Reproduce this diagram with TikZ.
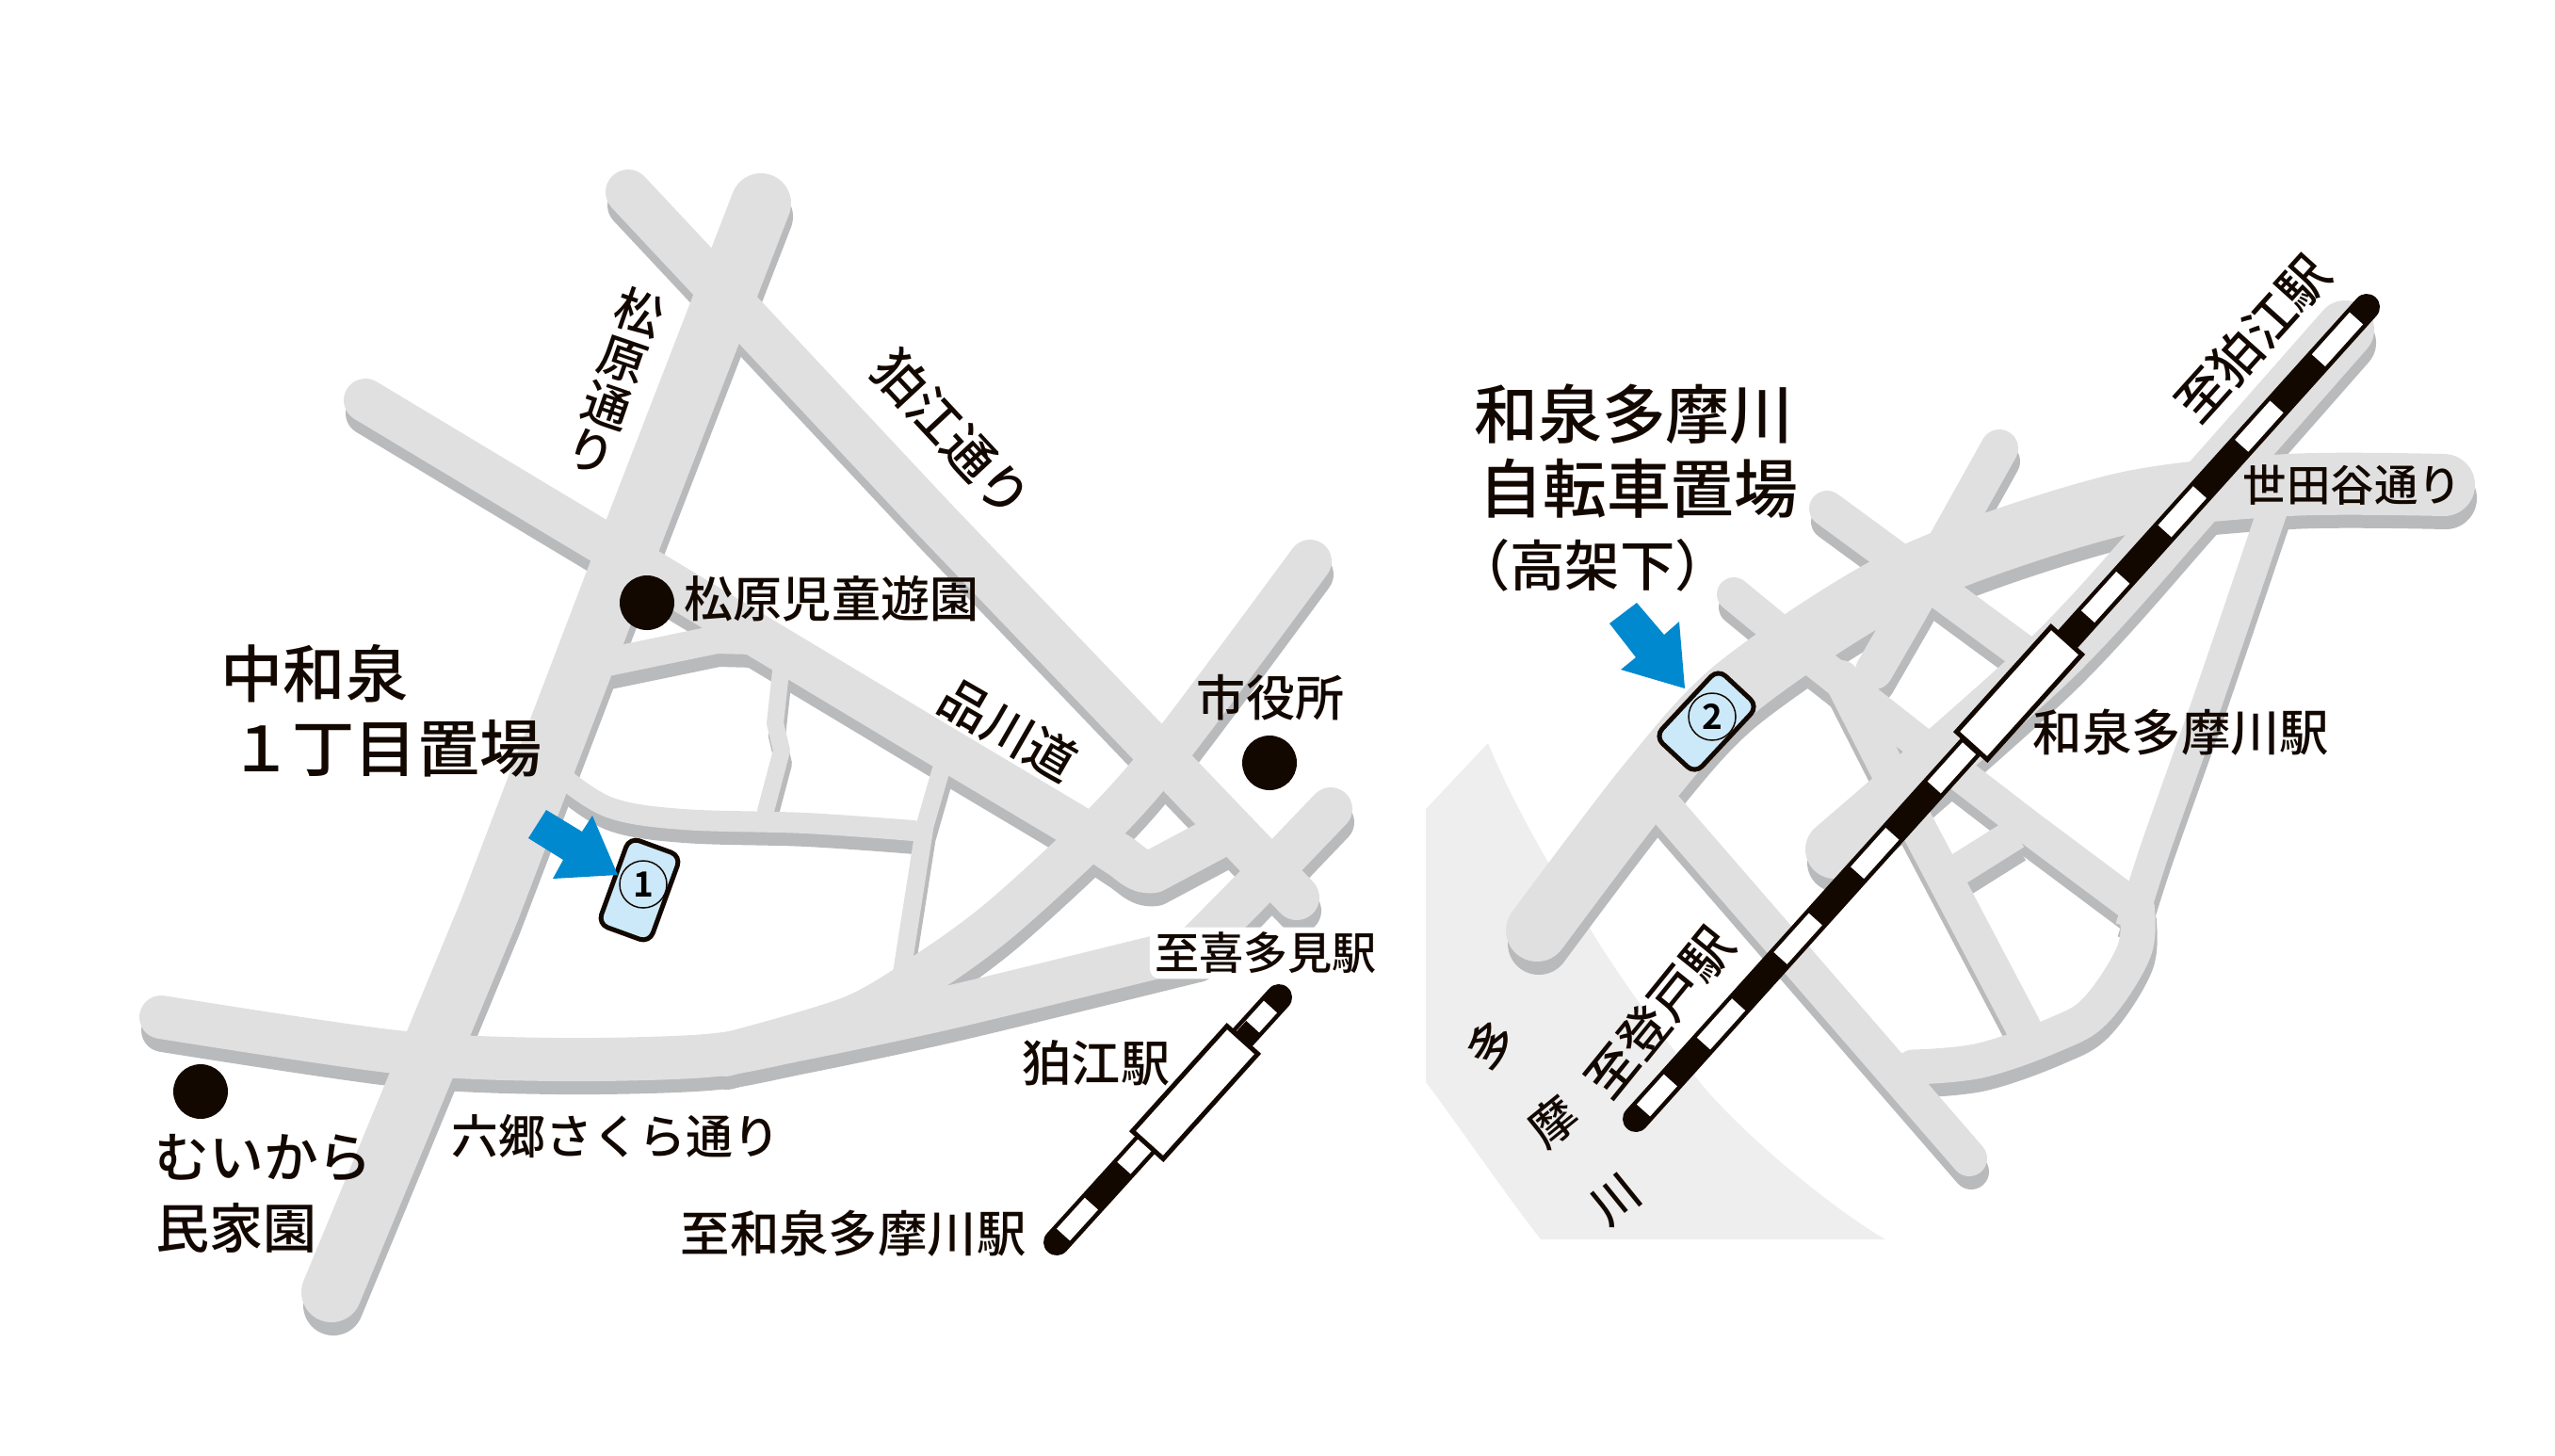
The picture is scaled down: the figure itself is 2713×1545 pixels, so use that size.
\documentclass[tikz,border=0pt]{standalone}
\usepackage{fontspec}
\setmainfont{Noto Sans CJK JP Medium}[BoldFont=Noto Sans CJK JP Bold]
\newlength{\du}
\setlength{\du}{0.01cm}
\definecolor{roadgrey}{rgb}{0.878, 0.878, 0.882}
\definecolor{roadshade}{rgb}{0.725, 0.729, 0.737}
\definecolor{rivergrey}{rgb}{0.933, 0.933, 0.933}
\definecolor{inkblack}{rgb}{0.075, 0.031, 0.000}
\definecolor{arrowblue}{rgb}{0.000, 0.537, 0.812}
\definecolor{boxblue}{rgb}{0.800, 0.914, 0.980}
\tikzset{
  roadline/.style={line cap=round,line join=round,draw=roadgrey},
  spot/.style={circle,fill=inkblack,minimum size=58\du,inner sep=0pt},
  lbl/.style={inner sep=0pt,text=inkblack,font=\fontsize{14.8pt}{15pt}\selectfont},
  titlelbl/.style={lbl,font=\fontsize{18.8pt}{19pt}\selectfont},
  railbase/.style={line width=28\du,line cap=round,draw=inkblack},
  railwhite/.style={line width=19\du,draw=white},
  railband/.style={line width=21\du,draw=inkblack},
  stationbox/.style={draw=inkblack,fill=white,line width=5\du,rotate=48,minimum width=150\du,minimum height=44\du,inner sep=0pt},
  parkbox/.style={draw=inkblack,fill=boxblue,line width=5\du,rounded corners=11\du,minimum width=58\du,minimum height=98\du,inner sep=0pt},
  parkno/.style={draw=inkblack,circle,line width=1.5\du,minimum size=50\du,inner sep=0pt,font=\fontsize{10.5pt}{11pt}\selectfont\bfseries},
  pointer/.style={fill=arrowblue,draw=none}
}
\newcommand{\roadnet}{
% left map
\draw[roadline,line width=64\du] (808,216)--(678,552)--(520,966)--(352,1372);
\draw[roadline,line width=48\du] (667,204)--(991,550)--(1377,953);
\draw[roadline,line width=46\du] (388,425)--(989,786)--(1140,876)--(1185,906) to[out=-30,in=190] (1225,925)--(1300,885);
\draw[roadline,line width=46\du] plot[smooth,tension=0.5] coordinates {(1391,596) (1250,785) (1176,871) (1066,973) (989,1030) (905,1080) (770,1120)};
\draw[roadline,line width=46\du] plot[smooth,tension=0.5] coordinates {(171,1080) (421,1117) (591,1125) (750,1121) (846,1104) (1015,1068) (1269,1006)};
\draw[roadline,line width=46\du] (1269,1006)--(1367,907)--(1413,859);
\draw[roadline,line width=30\du,line cap=butt] (640,704)--(761,679)--(800,680);
\draw[roadline,line width=22\du] plot[smooth,tension=0.6] coordinates {(602,829) (649,858) (725,870) (855,874) (970,882)};
\draw[roadline,line width=18\du] (829,713)--(823,768)--(830,797)--(813,861);
\draw[roadline,line width=19\du] (999,818)--(982,877)--(958,1030);
% right map
\draw[roadline,line width=66\du] plot[smooth,tension=0.5] coordinates {(1632,988) (1752,830) (1848,727) (2027,612) (2249,536) (2430,515) (2595,515)};
\draw[roadline,line width=62\du] plot[smooth,tension=0.5] coordinates {(2490,350) (2333,528) (2179,698) (1948,902)};
\draw[roadline,line width=40\du,line cap=round] (2123,476)--(2080,553)--(2027,648)--(1990,712);
\draw[roadline,line width=38\du] (1955,720)--(2011,830)--(2148,1090);
\draw[roadline,line width=38\du] (1940,540)--(2067,633)--(2165,705);
\draw[roadline,line width=36\du] (1841,631)--(1925,700)--(2047,796)--(2155,879)--(2270,965);
\draw[roadline,line width=37\du] plot[smooth,tension=0.6] coordinates {(2269,963) (2266,1010) (2226,1072) (2183,1098) (2103,1126) (2031,1133)};
\draw[roadline,line width=38\du] (1770,860)--(2091,1230);
\draw[roadline,line width=34\du,line cap=butt] (2062,934)--(2140,885);
\draw[roadline,line width=32\du,line cap=butt] plot[smooth,tension=0.5] coordinates {(2417,530) (2346,739) (2289,900) (2262,985)};
}
\begin{document}
\begin{tikzpicture}[x=\du,y=-\du]
\useasboundingbox (0,0) rectangle (2713,1545);
% river
\fill[rivergrey] (1580,789)..controls (1605,850) and (1650,930)..(1684,979)
  ..controls (1720,1040) and (1780,1120)..(1801,1144)
  ..controls (1840,1195) and (1940,1280)..(2002,1316)
  --(1636,1316)..controls (1600,1270) and (1545,1190)..(1514,1149)--(1514,859)--cycle;
\begin{scope}[shift={(2,14)},roadline/.append style={draw=roadshade}]
\roadnet
\end{scope}
\roadnet
% spots
\node[spot] (spotpark) at (687,640) {};
\node[spot] (spotcity) at (1348,810) {};
\node[spot] (spotfarm) at (213,1159) {};
% left railway
\coordinate (komaetop) at (1358,1059);
\coordinate (komaeend) at (1122,1319);
\draw[railbase] (komaetop)--(komaeend);
\draw[railwhite] (1349,1069)--(1129,1311);
\draw[railband] (1331,1091)--(1300,1125);
\draw[railband] (1193,1240)--(1159,1278);
\node[stationbox] (komaesta) at (1269,1160) {};
% right railway
\coordinate (tamatop) at (2513,326);
\coordinate (tamaend) at (1737,1188);
\draw[railbase] (tamatop)--(tamaend);
\draw[railwhite] (2502,338)--(1745,1179);
\draw[railband,dash pattern=on 66\du off 56\du] (2462,383)--(1774,1147);
\node[stationbox] (tamasta) at (2144,736) {};
% parking 1
\node[parkbox,rotate=-20] (parkone) at (679,945) {};
\node[parkno] (noone) at (683,939) {1};
\fill[pointer] (580,860)--(618,883)--(629,866)--(656,929)--(587,933)--(598,913)--(561,890)--cycle;
% parking 2
\node[parkbox,rotate=-43] (parktwo) at (1812,766) {};
\node[parkno] (notwo) at (1818,761) {2};
\fill[pointer] (1738,640)--(1767,674)--(1783,660)--(1789,731)--(1721,711)--(1737,698)--(1709,662)--cycle;
% left labels
\node[titlelbl] (nakaname) at (334,715) {中和泉};
\node[titlelbl] (nakaplace) at (410,795) {１丁目置場};
\node[lbl] (parklbl) at (883,636) {松原児童遊園};
\node[lbl,rotate=-19,align=center,font=\fontsize{14.4pt}{14.8pt}\selectfont] (matsulbl) at (653,405) {松\\原\\通\\り};
\node[lbl,rotate=-47,font=\fontsize{15.4pt}{16pt}\selectfont] (komaelbl) at (1011,461) {狛江通り};
\node[lbl,rotate=-30,font=\fontsize{15pt}{16pt}\selectfont] (shinalbl) at (1071,775) {品川道};
\node[lbl] (citylbl) at (1349,741) {市役所};
\node[lbl,fill=white,inner sep=1.5pt,rounded corners=3pt,font=\fontsize{13.4pt}{14pt}\selectfont] (kitamilbl) at (1344,1012) {至喜多見駅};
\node[lbl] (stalbl) at (1164,1129) {狛江駅};
\node[lbl,font=\fontsize{14.9pt}{15pt}\selectfont] (towalbl) at (906,1310) {至和泉多摩川駅};
\node[lbl,font=\fontsize{14.2pt}{14.8pt}\selectfont] (rokulbl) at (654,1206) {六郷さくら通り};
\node[lbl,font=\fontsize{16.4pt}{17pt}\selectfont] (mui) at (280,1230) {むいから};
\node[lbl,font=\fontsize{16.2pt}{17pt}\selectfont] (minka) at (251,1304) {民家園};
% right labels
\node[titlelbl,font=\fontsize{19.3pt}{20pt}\selectfont] (izuname) at (1735,440) {和泉多摩川};
\node[titlelbl,font=\fontsize{19.3pt}{20pt}\selectfont] (izuplace) at (1740,519) {自転車置場};
\node[lbl,font=\fontsize{16.6pt}{17pt}\selectfont] (izuunder) at (1691,600) {（高架下）};
\node[lbl,font=\fontsize{14.9pt}{15pt}\selectfont] (tamalbl) at (2316,778) {和泉多摩川駅};
\node[lbl,font=\fontsize{13.2pt}{14pt}\selectfont] (setalbl) at (2498,515) {世田谷通り};
\node[lbl,rotate=48,font=\fontsize{15.2pt}{16pt}\selectfont] (tokomae) at (2392,360) {至狛江駅};
\node[lbl,rotate=51,font=\fontsize{15.2pt}{16pt}\selectfont] (tonobo) at (1762,1075) {至登戸駅};
\node[lbl,rotate=39,align=center,font=\fontsize{14.2pt}{29.9pt}\selectfont] (river) at (1649,1191) {多\\摩\\川};
\end{tikzpicture}
\end{document}
